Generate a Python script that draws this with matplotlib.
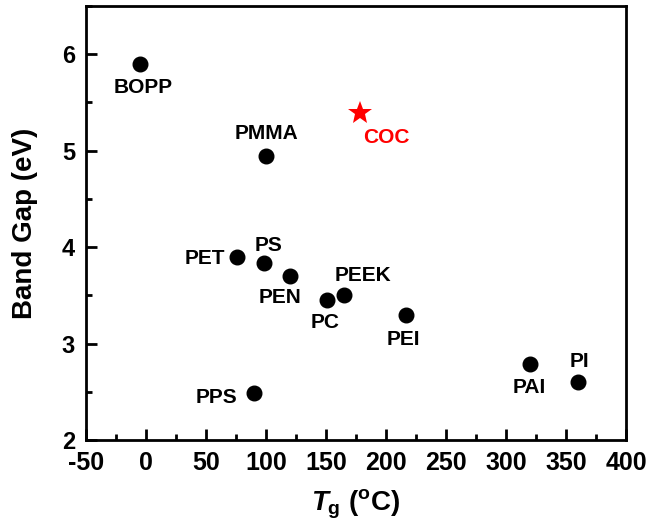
import matplotlib
matplotlib.use("Agg")
import matplotlib.pyplot as plt
from matplotlib.ticker import MultipleLocator

plt.rcParams['font.family'] = ['Liberation Sans', 'DejaVu Sans']
plt.rcParams['font.weight'] = 'bold'
plt.rcParams['axes.unicode_minus'] = False
plt.rcParams['mathtext.fontset'] = 'custom'
plt.rcParams['mathtext.rm'] = 'Liberation Sans:bold'
plt.rcParams['mathtext.bf'] = 'Liberation Sans:bold'
plt.rcParams['mathtext.it'] = 'Liberation Sans:italic:bold'

# Data
names = ['BOPP', 'PMMA', 'PET', 'PS', 'PEN', 'PC', 'PEEK', 'PEI', 'PAI', 'PI', 'PPS']
tg = [-5, 100, 76, 98, 120, 151, 165, 217, 320, 360, 90]
gap = [5.9, 4.94, 3.9, 3.84, 3.7, 3.45, 3.5, 3.3, 2.79, 2.6, 2.49]
coc_name = 'COC'
coc_tg = [178]
coc_gap = [5.39]

# label offsets in pixels (style)
offsets = {
    'BOPP': (3, -24), 'PMMA': (1, 23), 'PET': (-32, -2), 'PS': (5, 17),
    'PEN': (-10, -21), 'PC': (-2, -22), 'PEEK': (19, 20), 'PEI': (-3, -25),
    'PAI': (-1, -24), 'PI': (1, 21), 'PPS': (-37, -5),
}

fig = plt.figure(figsize=(6.51, 5.28), dpi=100)
ax = fig.add_axes([86/651, 1-440/528, 540/651, 434/528])

ax.plot(tg, gap, 'o', color='black', markersize=10.5, linestyle='none')
ax.plot(coc_tg, coc_gap, '*', color='red', markersize=18, markeredgewidth=0, linestyle='none')

for n, x, y in zip(names, tg, gap):
    dx, dy = offsets[n]
    ax.annotate(n, (x, y), xytext=(dx, dy), textcoords='offset pixels',
                ha='center', va='center', fontsize=15, fontweight='bold', color='black')
ax.annotate(coc_name, (coc_tg[0], coc_gap[0]), xytext=(27, -24), textcoords='offset pixels',
            ha='center', va='center', fontsize=15, fontweight='bold', color='red')

ax.set_xlim(-50, 400)
ax.set_ylim(2, 6.5)
ax.xaxis.set_major_locator(MultipleLocator(50))
ax.xaxis.set_minor_locator(MultipleLocator(25))
ax.yaxis.set_major_locator(MultipleLocator(1))
ax.yaxis.set_minor_locator(MultipleLocator(0.5))
ax.tick_params(which='major', direction='in', length=8, width=2)
ax.tick_params(which='minor', direction='in', length=4, width=2)
ax.tick_params(axis='x', labelsize=18, pad=8)
ax.tick_params(axis='y', labelsize=17, pad=8)
for lab in ax.get_xticklabels() + ax.get_yticklabels():
    lab.set_fontweight('bold')
for s in ax.spines.values():
    s.set_linewidth(2)

ax.set_ylabel('Band Gap (eV)', fontsize=20, fontweight='bold')
ax.set_xlabel(r'$T_{\mathrm{g}}$ ($^{\mathrm{o}}$C)', fontsize=20, fontweight='bold')
ax.yaxis.set_label_coords(-0.088, 0.5)
ax.xaxis.set_label_coords(0.5, -0.11)

fig.savefig('out.png', dpi=100)
